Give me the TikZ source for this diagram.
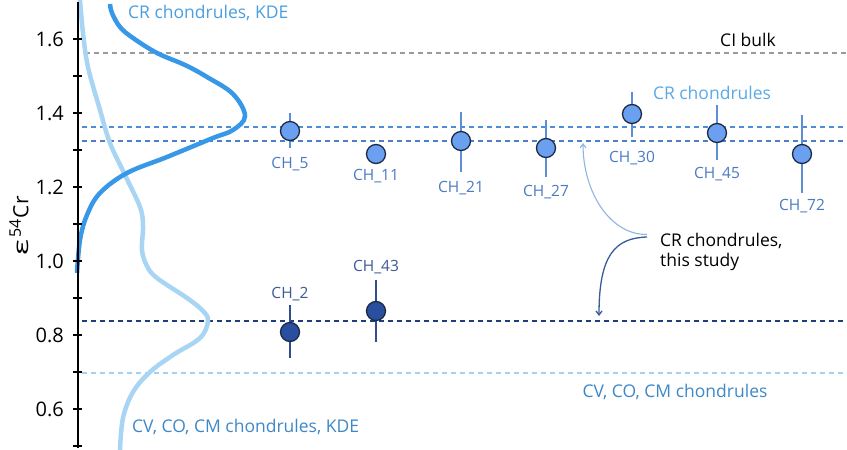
\documentclass[tikz,border=0pt]{standalone}
\usepackage{fontspec}
\setmainfont{Open Sans}
\usetikzlibrary{arrows.meta}
\definecolor{crkde}{HTML}{3898E8}
\definecolor{cvkde}{HTML}{A9D5F5}
\definecolor{crkdetxt}{HTML}{4A9FE0}
\definecolor{cvtxt}{HTML}{3E88C8}
\definecolor{ptline}{HTML}{1C2B45}
\definecolor{crfill}{HTML}{6B9FF0}
\definecolor{dkfill}{HTML}{2A4F9F}
\definecolor{crbar}{HTML}{5C8FD8}
\definecolor{dkbar}{HTML}{2F4E90}
\definecolor{crlab}{HTML}{4A7AC4}
\definecolor{dklab}{HTML}{3D5A94}
\definecolor{cigray}{HTML}{9A9A9A}
\definecolor{crlineA}{HTML}{4D8FD6}
\definecolor{crlineB}{HTML}{4D7FC8}
\definecolor{dkline}{HTML}{203D7D}
\definecolor{cvline}{HTML}{A5D0EF}
\definecolor{crreftxt}{HTML}{5AAAE6}
\definecolor{arrlight}{HTML}{8FB6E3}
\definecolor{arrdark}{HTML}{3A5A9A}
\begin{document}
\begin{tikzpicture}[x=1pt,y=-1pt,
  dline/.style={line width=2pt, dash pattern=on 5pt off 4pt},
  kde/.style={line width=4.5pt},
  ptbase/.style={circle, draw=ptline, line width=1.3pt, minimum size=19pt, inner sep=0pt},
  crpt/.style={ptbase, fill=crfill},
  dkpt/.style={ptbase, fill=dkfill},
  ebar/.style={line width=2pt},
  chlab/.style={font=\fontsize{15.5}{18}\selectfont, inner sep=0pt},
  txt/.style={font=\fontsize{17.5}{20}\selectfont, inner sep=0pt},
  ticklab/.style={font=\fontsize{20}{24}\selectfont, inner sep=0pt, anchor=east},
  callout/.style={-{Straight Barb[length=4pt,width=6pt]}}
]
\useasboundingbox (0,0) rectangle (847,450);
\fill[white] (0,0) rectangle (847,450);

% reference lines
\draw[dline, cigray] (85,53) -- (847,53);
\draw[dline, crlineA] (82,127) -- (847,127);
\draw[dline, crlineB] (82,141) -- (847,141);
\draw[dline, dkline] (82,321) -- (847,321);
\draw[dline, cvline] (82,373) -- (847,373);

% KDE curves
\draw[kde, cvkde] plot[smooth, tension=0.6] coordinates {
 (80,0) (83,33) (88,67) (100,110) (110,143) (125,175) (140,207) (143,226)
 (142,250) (147,266) (157,278) (187,298) (203,311) (208,321) (200,338)
 (173,355) (150,372) (133,392) (123,418) (120,450)};
\draw[kde, crkde] plot[smooth, tension=0.6] coordinates {
 (110,4) (112,13) (120,27) (133,38) (157,53) (185,65) (207,77) (233,94)
 (245,116) (233,130) (213,138) (167,157) (127,173) (100,193) (87,215)
 (80,240) (77,273)};

% axis
\draw[line width=1.6pt] (78,2) -- (78,448);
\foreach \yy in {39,76,113,150,187,224,261,298,335,372,409,446}
  \draw[line width=1.8pt] (73,\yy) -- (82,\yy);
\node[ticklab] (t16) at (64,39) {1.6};
\node[ticklab] (t14) at (64,113) {1.4};
\node[ticklab] (t12) at (64,187) {1.2};
\node[ticklab] (t10) at (64,261) {1.0};
\node[ticklab] (t08) at (64,335) {0.8};
\node[ticklab] (t06) at (64,409) {0.6};
\node[rotate=90, font=\fontsize{21}{24}\selectfont, inner sep=0pt] (ylab) at (19,226)
  {\scalebox{1.6}[1]{ε}\kern2pt\raisebox{7.5pt}{\fontsize{16}{16}\selectfont 54}\kern1.5pt Cr};

% error bars
\draw[ebar, crbar] (290,113) -- (290,148);
\draw[ebar, crbar] (461,112) -- (461,172);
\draw[ebar, crbar] (546,120) -- (546,177);
\draw[ebar, crbar] (632,92) -- (632,137);
\draw[ebar, crbar] (717,105) -- (717,160);
\draw[ebar, crbar] (802,115) -- (802,193);
\draw[ebar, dkbar] (290,305) -- (290,358);
\draw[ebar, dkbar] (376,280) -- (376,342);

% data points
\node[crpt] (p5) at (290,131) {};
\node[crpt] (p11) at (376,154) {};
\node[crpt] (p21) at (461,141) {};
\node[crpt] (p27) at (546,148) {};
\node[crpt] (p30) at (632,114) {};
\node[crpt] (p45) at (717,133) {};
\node[crpt] (p72) at (802,154) {};
\node[dkpt] (p2) at (290,332) {};
\node[dkpt] (p43) at (376,311) {};

% point labels
\node[chlab, text=crlab] (l5) at (290,164) {CH\_5};
\node[chlab, text=crlab] (l11) at (376,176) {CH\_11};
\node[chlab, text=crlab] (l21) at (461,188) {CH\_21};
\node[chlab, text=crlab] (l27) at (546,192) {CH\_27};
\node[chlab, text=crlab] (l30) at (632,158) {CH\_30};
\node[chlab, text=crlab] (l45) at (717,174) {CH\_45};
\node[chlab, text=crlab] (l72) at (802,206) {CH\_72};
\node[chlab, text=dklab] (l2) at (290,294) {CH\_2};
\node[chlab, text=dklab] (l43) at (376,267) {CH\_43};

% texts
\node[txt, text=crkdetxt, anchor=west] (crkdelab) at (128,13) {CR chondrules, KDE};
\node[txt, text=cvtxt, anchor=west] (cvkdelab) at (132,427) {CV, CO, CM chondrules, KDE};
\node[txt] (cibulk) at (748,40) {CI bulk};
\node[txt, text=crreftxt] (crref) at (712,93) {CR chondrules};
\node[txt, text=cvtxt] (cvref) at (675,392) {CV, CO, CM chondrules};
\node[txt, anchor=west, align=left, font=\fontsize{17.5}{20}\selectfont] (study) at (660,252)
  {CR chondrules,\\this study};

% callout arrows
\coordinate (ua) at (647,234.5);
\coordinate (la) at (647,237);
\coordinate (ut) at (583,143);
\coordinate (lt) at (599,316);
\draw[callout, arrlight, line width=1.1pt] (ua) .. controls (610,235) and (583,192) .. (ut);
\draw[callout, arrdark, line width=1.3pt] (la) .. controls (615,238) and (599,255) .. (lt);
\end{tikzpicture}
\end{document}
